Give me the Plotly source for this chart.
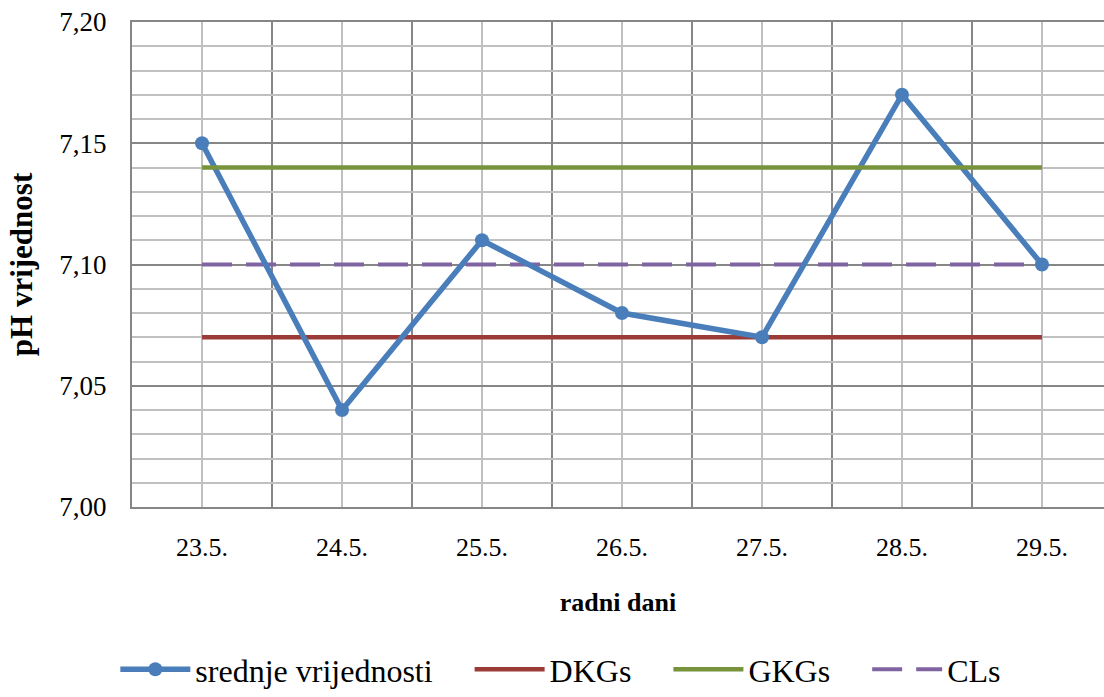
import plotly.graph_objects as go

dates = ["23.5.", "24.5.", "25.5.", "26.5.", "27.5.", "28.5.", "29.5."]
srednje = [7.15, 7.04, 7.11, 7.08, 7.07, 7.17, 7.10]
dkgs = [7.07, 7.07, 7.07, 7.07, 7.07, 7.07, 7.07]
gkgs = [7.14, 7.14, 7.14, 7.14, 7.14, 7.14, 7.14]
cls_ = [7.10, 7.10, 7.10, 7.10, 7.10, 7.10, 7.10]

xi = list(range(len(dates)))
FONT = "Liberation Serif"
DARK = "#868686"
LIGHT = "#c0c0c0"
PAD = "\u00a0" * 4

fig = go.Figure()
fig.add_trace(go.Scatter(x=xi, y=cls_, name="CLs", mode="lines", legendrank=4,
                         line=dict(color="#8064A2", width=4, dash="30px,14px")))
fig.add_trace(go.Scatter(x=xi, y=dkgs, name="DKGs" + PAD, mode="lines", legendrank=2,
                         line=dict(color="#9B3B38", width=4.5)))
fig.add_trace(go.Scatter(x=xi, y=srednje, name="srednje vrijednosti" + PAD, mode="lines+markers",
                         legendrank=1,
                         line=dict(color="#4A7EBB", width=5.5),
                         marker=dict(color="#4A7EBB", size=14, symbol="circle")))
fig.add_trace(go.Scatter(x=xi, y=gkgs, name="GKGs" + PAD, mode="lines", legendrank=3,
                         line=dict(color="#77933C", width=4.5)))

boundaries = [i - 0.5 for i in range(len(dates) + 1)]

fig.update_layout(
    width=1104, height=697,
    margin=dict(l=132, r=0, t=22, b=190),
    paper_bgcolor="white", plot_bgcolor="white",
    separators=", ",
    font=dict(family=FONT, color="black", size=26),
    showlegend=True,
    legend=dict(orientation="h", xref="container", yref="container",
                x=0.508, y=0.0, xanchor="center", yanchor="bottom",
                font=dict(size=32, family=FONT), itemwidth=70,
                traceorder="normal", bgcolor="rgba(0,0,0,0)"),
    xaxis=dict(
        range=[-0.5, 6.443], automargin=False,
        tickvals=xi, ticktext=dates,
        showgrid=True, gridcolor=LIGHT, gridwidth=1.5,
        minor=dict(tickvals=boundaries, showgrid=True, gridcolor=DARK, gridwidth=1.5, ticks=""),
        showline=True, linecolor=DARK, linewidth=2, mirror=True,
        ticks="", zeroline=False,
        ticklabelstandoff=16,
        tickfont=dict(size=26, family=FONT),
        title=dict(text="<b>radni dani</b>", font=dict(size=26, family=FONT), standoff=32),
    ),
    yaxis=dict(
        range=[7.0, 7.2], dtick=0.05, tick0=7.0, tickformat=".2f", automargin=False,
        showgrid=True, gridcolor=DARK, gridwidth=1.5,
        minor=dict(dtick=0.01, showgrid=True, gridcolor=LIGHT, gridwidth=1.5, ticks=""),
        showline=True, linecolor=DARK, linewidth=2,
        ticks="", zeroline=False,
        ticklabelstandoff=18,
        tickfont=dict(size=27, family=FONT),
        title=dict(text="<b>pH vrijednost</b>", font=dict(size=31, family=FONT), standoff=17),
    ),
)

fig.write_html("out.html", config={"displayModeBar": False})

with open("out.html", "r", encoding="utf-8") as f:
    html = f.read()
html = html.replace("<body>", '<body style="margin:0;padding:0;">', 1)
with open("out.html", "w", encoding="utf-8") as f:
    f.write(html)
